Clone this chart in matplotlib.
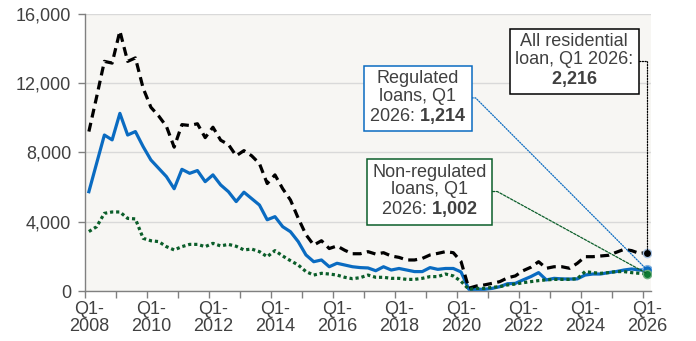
import matplotlib

matplotlib.use("Agg")
import matplotlib.pyplot as plt
import numpy as np

# quarterly categories, Q1 2008 .. Q1 2026
quarters = [f"Q{q}-{y}" for y in range(2008, 2027) for q in range(1, 5)][:73]

all_residential = [
    9200, 11200, 13250, 13150, 15000, 13250, 13450, 11700,
    10600, 10100, 9500, 8300, 9600, 9550, 9650, 8850,
    9450, 8700, 8450, 7800, 8100, 7800, 7350, 6200,
    6700, 5900, 5250, 4200, 3250, 2650, 2900, 2450,
    2600, 2350, 2150, 2150, 2270, 2130, 2210, 2020,
    1940, 1790, 1790, 1880, 2080, 2170, 2270, 2210,
    1700, 160, 290, 350, 440, 540, 760, 870,
    1170, 1370, 1690, 1310, 1400, 1400, 1310, 1600,
    1980, 1980, 2020, 2060, 2230, 2400, 2330, 2170,
    2216,
]
regulated = [
    5730, 7370, 9000, 8720, 10250, 9000, 9200, 8330,
    7560, 7080, 6600, 5900, 7020, 6790, 6950, 6310,
    6700, 6120, 5730, 5160, 5700, 5330, 4960, 4110,
    4290, 3710, 3420, 2850, 2080, 1690, 1790, 1400,
    1600, 1500, 1400, 1350, 1330, 1170, 1400, 1210,
    1300, 1210, 1120, 1120, 1350, 1250, 1300, 1300,
    1100, 100, 100, 100, 150, 250, 420, 440,
    640, 830, 1060, 640, 730, 700, 690, 700,
    920, 980, 980, 1060, 1120, 1210, 1270, 1210,
    1214,
]
non_regulated = [
    3430, 3710, 4480, 4560, 4560, 4190, 4160, 3040,
    2900, 2850, 2560, 2370, 2560, 2690, 2690, 2560,
    2750, 2600, 2690, 2580, 2370, 2420, 2270, 1980,
    2330, 2020, 1750, 1500, 1120, 920, 1020, 980,
    920, 790, 710, 770, 920, 790, 790, 730,
    730, 670, 670, 730, 830, 830, 980, 870,
    560, 100, 150, 150, 210, 250, 350, 400,
    480, 540, 600, 640, 670, 670, 670, 710,
    1120, 1060, 1020, 1060, 1120, 1120, 1060, 1020,
    1002,
]
y_ticks = [0, 4000, 8000, 12000, 16000]

plt.rcParams["font.family"] = ["Liberation Sans", "DejaVu Sans"]
plt.rcParams["mathtext.fontset"] = "custom"
plt.rcParams["mathtext.rm"] = "Liberation Sans"
plt.rcParams["mathtext.bf"] = "Liberation Sans:bold"

TEXT = "#404040"
BLUE = "#0A6BC1"
GREEN = "#0B5E2A"
AXIS = "#808080"

fig = plt.figure(figsize=(6.96, 3.41), dpi=100)
ax = fig.add_axes([85 / 696, 50 / 341, 566 / 696, 277.3 / 341])
ax.set_facecolor("#F7F6F3")

x = np.arange(len(quarters))
ax.plot(x, regulated, color=BLUE, lw=2.3, zorder=3)
ax.plot(x, all_residential, color="black", lw=2.3, ls=(0, (2.8, 1.7)), zorder=4)
ax.plot(x, non_regulated, color=GREEN, lw=2.3, ls=(0, (1, 0.9)), zorder=5)

# end-point markers
ax.plot(x[-1], all_residential[-1], "o", ms=6, mfc="black", mec="#A9C4E4", mew=1, zorder=6)
ax.plot(x[-1], regulated[-1], "o", ms=7, mfc=BLUE, mec="#7FB0E0", mew=1, zorder=6)
ax.plot(x[-1], non_regulated[-1], "o", ms=6, mfc="#0E7A32", mec="#6FAF7F", mew=1, zorder=7)

ax.set_xlim(-0.5, len(quarters) - 0.5)
ax.set_ylim(0, 16000)
ax.set_yticks(y_ticks)
ax.set_yticklabels([f"{v:,}" for v in y_ticks])
ax.grid(axis="y", color="#D9D9D9", lw=1, zorder=0)
ax.set_axisbelow(True)

# tick marks at year boundaries, labels every two years under Q1
ax.set_xticks(np.arange(-0.5, len(quarters) - 1, 4))
ax.set_xticklabels([])
label_pos = x[::8]
ax.set_xticks(label_pos, minor=True)
ax.set_xticklabels([quarters[i].replace("-", "-\n") for i in label_pos], minor=True,
                   linespacing=1.05)
ax.tick_params(axis="x", which="major", length=5, width=1, color=AXIS, direction="out")
ax.tick_params(axis="x", which="minor", length=0, pad=7, labelsize=13, labelcolor=TEXT)
ax.tick_params(axis="y", length=5, width=1, color=AXIS, pad=5, labelsize=13, labelcolor=TEXT)

for side in ["top", "right"]:
    ax.spines[side].set_visible(False)
for side in ["left", "bottom"]:
    ax.spines[side].set_color(AXIS)
    ax.spines[side].set_linewidth(1)

# callout boxes
ax.annotate(
    "All residential\nloan, Q1 2026:\n$\\mathbf{2{,}216}$",
    xy=(x[-1], all_residential[-1]), xytext=(62.6, 13260),
    ha="center", va="center", fontsize=13, color=TEXT, linespacing=1.05, zorder=8,
    bbox=dict(boxstyle="square,pad=0.3", fc="white", ec="black", lw=1.1),
    arrowprops=dict(arrowstyle="-", color="black", lw=0.9, ls=(0, (1, 1.2)),
                    shrinkA=0, shrinkB=0,
                    connectionstyle="angle,angleA=0,angleB=90,rad=0"),
)
ax.annotate(
    "Regulated\nloans, Q1\n2026: $\\mathbf{1{,}214}$",
    xy=(x[-1], regulated[-1]), xytext=(42.4, 11140),
    ha="center", va="center", fontsize=13, color=TEXT, linespacing=1.05, zorder=8,
    bbox=dict(boxstyle="square,pad=0.3", fc="white", ec=BLUE, lw=1.1),
    arrowprops=dict(arrowstyle="-", color=BLUE, lw=0.9, ls=(0, (1, 1.2)),
                    shrinkA=0, shrinkB=0,
                    connectionstyle="arc,angleA=0,angleB=0,armA=58,armB=0,rad=0"),
)
ax.annotate(
    "Non-regulated\nloans, Q1\n2026: $\\mathbf{1{,}002}$",
    xy=(x[-1], non_regulated[-1]), xytext=(43.9, 5740),
    ha="center", va="center", fontsize=13, color=TEXT, linespacing=1.05, zorder=8,
    bbox=dict(boxstyle="square,pad=0.3", fc="white", ec=GREEN, lw=1.1),
    arrowprops=dict(arrowstyle="-", color=GREEN, lw=0.9, ls=(0, (2, 1.2)),
                    shrinkA=0, shrinkB=0,
                    connectionstyle="arc,angleA=0,angleB=0,armA=68,armB=0,rad=0"),
)

fig.savefig("out.png", dpi=100)
